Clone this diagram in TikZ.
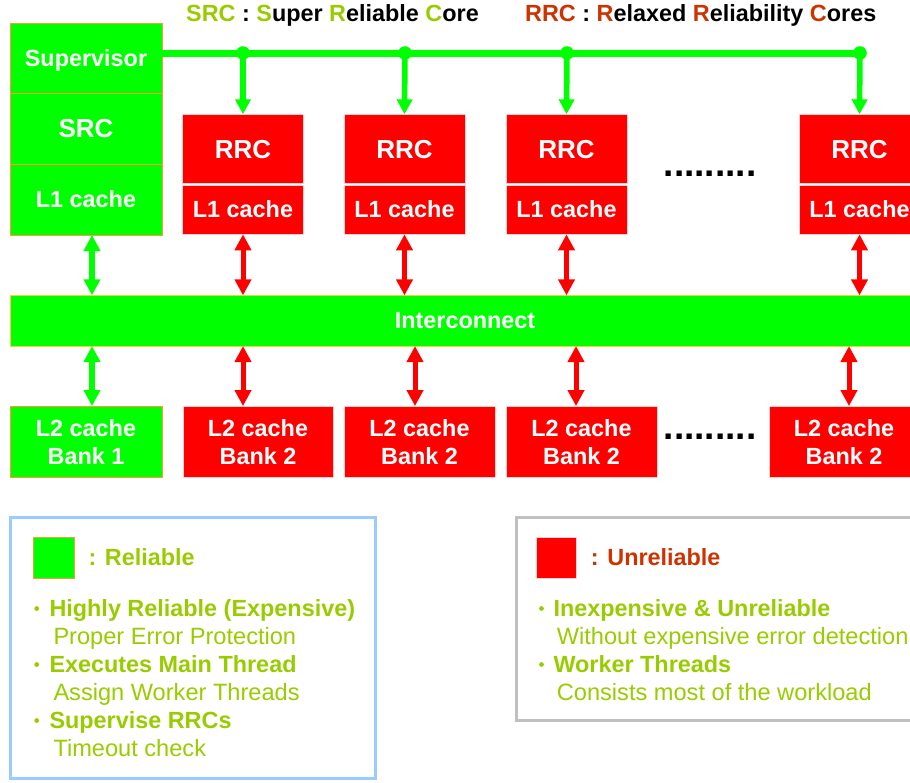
\documentclass[tikz,border=0pt]{standalone}
\usepackage{fontspec}
\setmainfont{Liberation Sans}
\usetikzlibrary{arrows.meta}
\definecolor{good}{HTML}{00FF00}
\definecolor{bad}{HTML}{FF0000}
\definecolor{leaf}{HTML}{99CC00}
\definecolor{rust}{HTML}{CC3300}
\definecolor{edgeor}{HTML}{FF9933}
\definecolor{redline}{HTML}{FFD0D0}
\definecolor{busline}{HTML}{FFCC33}
\definecolor{skyline}{HTML}{99CCFF}
\definecolor{greyline}{HTML}{C0C0C0}
\begin{document}
\begin{tikzpicture}[x=1pt,y=-1pt,
  txt/.style={font=\bfseries\fontsize{23.4}{28}\selectfont},
  base/.style={txt, inner sep=0pt, outer sep=0pt, text=white, text height=16.5pt, text depth=0pt},
  srcpart/.style={base, fill=good, draw=edgeor, line width=0.8pt, minimum width=152pt},
  rrcpart/.style={base, fill=bad, draw=redline, line width=0.8pt, minimum width=121pt},
  core/.style={font=\bfseries\fontsize{26}{30}\selectfont, text height=18.7pt},
  bank/.style={txt, inner sep=0pt, outer sep=0pt, text=white, align=center, minimum height=71.3pt},
  gbank/.style={bank, fill=good, draw=edgeor, line width=0.8pt, minimum width=152pt},
  rbank/.style={bank, fill=bad, draw=redline, line width=0.8pt},
  tap/.style={good, line width=5.5pt, -{Triangle[width=15pt,length=15pt]}},
  glink/.style={good, line width=5.5pt, {Triangle[width=16pt,length=16pt]}-{Triangle[width=16pt,length=16pt]}},
  rlink/.style={bad, line width=5pt, {Triangle[width=16pt,length=16pt]}-{Triangle[width=16pt,length=16pt]}},
  more/.style={font=\bfseries\fontsize{37}{37}\selectfont, inner sep=0pt},
  frame/.style={line width=3pt, inner sep=0pt},
  head/.style={txt, anchor=base west, inner sep=0pt, text=leaf},
  sub/.style={font=\fontsize{23.6}{28}\selectfont, anchor=base west, inner sep=0pt, text=leaf},
  dotmark/.style={circle, fill=leaf, minimum size=4.8pt, inner sep=0pt},
]
\useasboundingbox (0,0) rectangle (910,782);
\clip (0,0) rectangle (910,782);

% titles
\node[txt, anchor=base west, inner sep=0pt] (t1) at (186,21)
  {\textcolor{leaf}{SRC} : \textcolor{leaf}{S}uper \textcolor{leaf}{R}eliable \textcolor{leaf}{C}ore};
\node[txt, anchor=base west, inner sep=0pt] (t2) at (525,21)
  {\textcolor{rust}{RRC} : \textcolor{rust}{R}elaxed \textcolor{rust}{R}eliability \textcolor{rust}{C}ores};

% super reliable core column
\node[srcpart, minimum height=70pt] (sup) at (86,58) {Supervisor};
\node[srcpart, core, minimum height=71pt] (src) at (86,128.5) {SRC};
\node[srcpart, minimum height=71pt] (l1s) at (86,199.5) {L1 cache};

% relaxed reliability cores
\foreach \i/\x in {1/243, 2/404.5, 3/566.5, 4/859.5}{
  \node[rrcpart, core, minimum height=69pt] (r\i) at (\x,148.8) {RRC};
  \node[rrcpart, minimum height=49.3pt] (c\i) at (\x,209.7) {L1 cache};
}
\node[more] (m1) at (710,173.3) {.........};

% supervisor bus
\coordinate (busend) at (860,53);
\draw[good, line width=7pt] (sup.east |- busend) -- (busend);
\foreach \i/\x in {1/243, 2/405, 3/567, 4/860}{
  \coordinate (k\i) at (\x,53);
  \fill[good] (k\i) circle (6.8pt);
  \draw[tap] (k\i) -- (r\i.north);
}

% interconnect
\node[base, fill=good, draw=busline, line width=0.8pt, minimum width=910pt, minimum height=50.7pt] (ic) at (465,320.7) {Interconnect};

% L2 banks
\node[gbank] (b1) at (86,441.7) {L2 cache\\Bank 1};
\node[rbank, minimum width=150pt] (b2) at (258,441.7) {L2 cache\\Bank 2};
\node[rbank, minimum width=151pt] (b3) at (419.5,441.7) {L2 cache\\Bank 2};
\node[rbank, minimum width=151pt] (b4) at (581.5,441.7) {L2 cache\\Bank 2};
\node[rbank, minimum width=150pt] (b5) at (844,441.7) {L2 cache\\Bank 2};
\node[more] (m2) at (710,436.5) {.........};

% links to the interconnect
\coordinate (u0) at (92,0);
\coordinate (v0) at (92,0);
\coordinate (v1) at (243,0);
\coordinate (v2) at (415,0);
\coordinate (v3) at (576,0);
\coordinate (v4) at (849,0);
\draw[glink] (l1s.south -| u0) -- (ic.north -| u0);
\foreach \i in {1,...,4}{
  \draw[rlink] (c\i.south) -- (ic.north -| c\i.south);
}
\draw[glink] (ic.south -| v0) -- (b1.north -| v0);
\foreach \i/\j in {1/2, 2/3, 3/4, 4/5}{
  \draw[rlink] (ic.south -| v\i) -- (b\j.north -| v\i);
}

% legend: reliable
\node[frame, draw=skyline, minimum width=364.2pt, minimum height=260.3pt] (lg) at (192.9,647.85) {};
\node[fill=good, draw=edgeor, line width=0.8pt, minimum width=40.7pt, minimum height=41pt, inner sep=0pt] (gs) at (53.65,557.8) {};
\node[head] (gl) at (88.3,565.7) {: Reliable};
\node[dotmark] (d1) at (36.7,608.5) {};
\node[head] (g1) at (49.3,616.5) {Highly Reliable (Expensive)};
\node[sub] (g2) at (53.3,644.3) {Proper Error Protection};
\node[dotmark] (d2) at (36.7,664.5) {};
\node[head] (g3) at (49.3,672.3) {Executes Main Thread};
\node[sub] (g4) at (53.3,700.2) {Assign Worker Threads};
\node[dotmark] (d3) at (36.7,720.5) {};
\node[head] (g5) at (49.3,728.5) {Supervise RRCs};
\node[sub] (g6) at (53.3,756.5) {Timeout check};

% legend: unreliable
\node[frame, draw=greyline, minimum width=420pt, minimum height=202.3pt] (lb) at (726.7,618.85) {};
\node[fill=bad, draw=redline, line width=0.8pt, minimum width=40pt, minimum height=40.7pt, inner sep=0pt] (rs) at (556.7,557.65) {};
\node[head, text=rust] (rl) at (590.7,565.7) {: Unreliable};
\node[dotmark] (d4) at (541.5,608.5) {};
\node[head] (h1) at (553.3,616.2) {Inexpensive \& Unreliable};
\node[sub] (h2) at (556.7,644.2) {Without expensive error detection};
\node[dotmark] (d5) at (541.5,664.5) {};
\node[head] (h3) at (553.3,672.2) {Worker Threads};
\node[sub] (h4) at (556.7,700.2) {Consists most of the workload};
\end{tikzpicture}
\end{document}
